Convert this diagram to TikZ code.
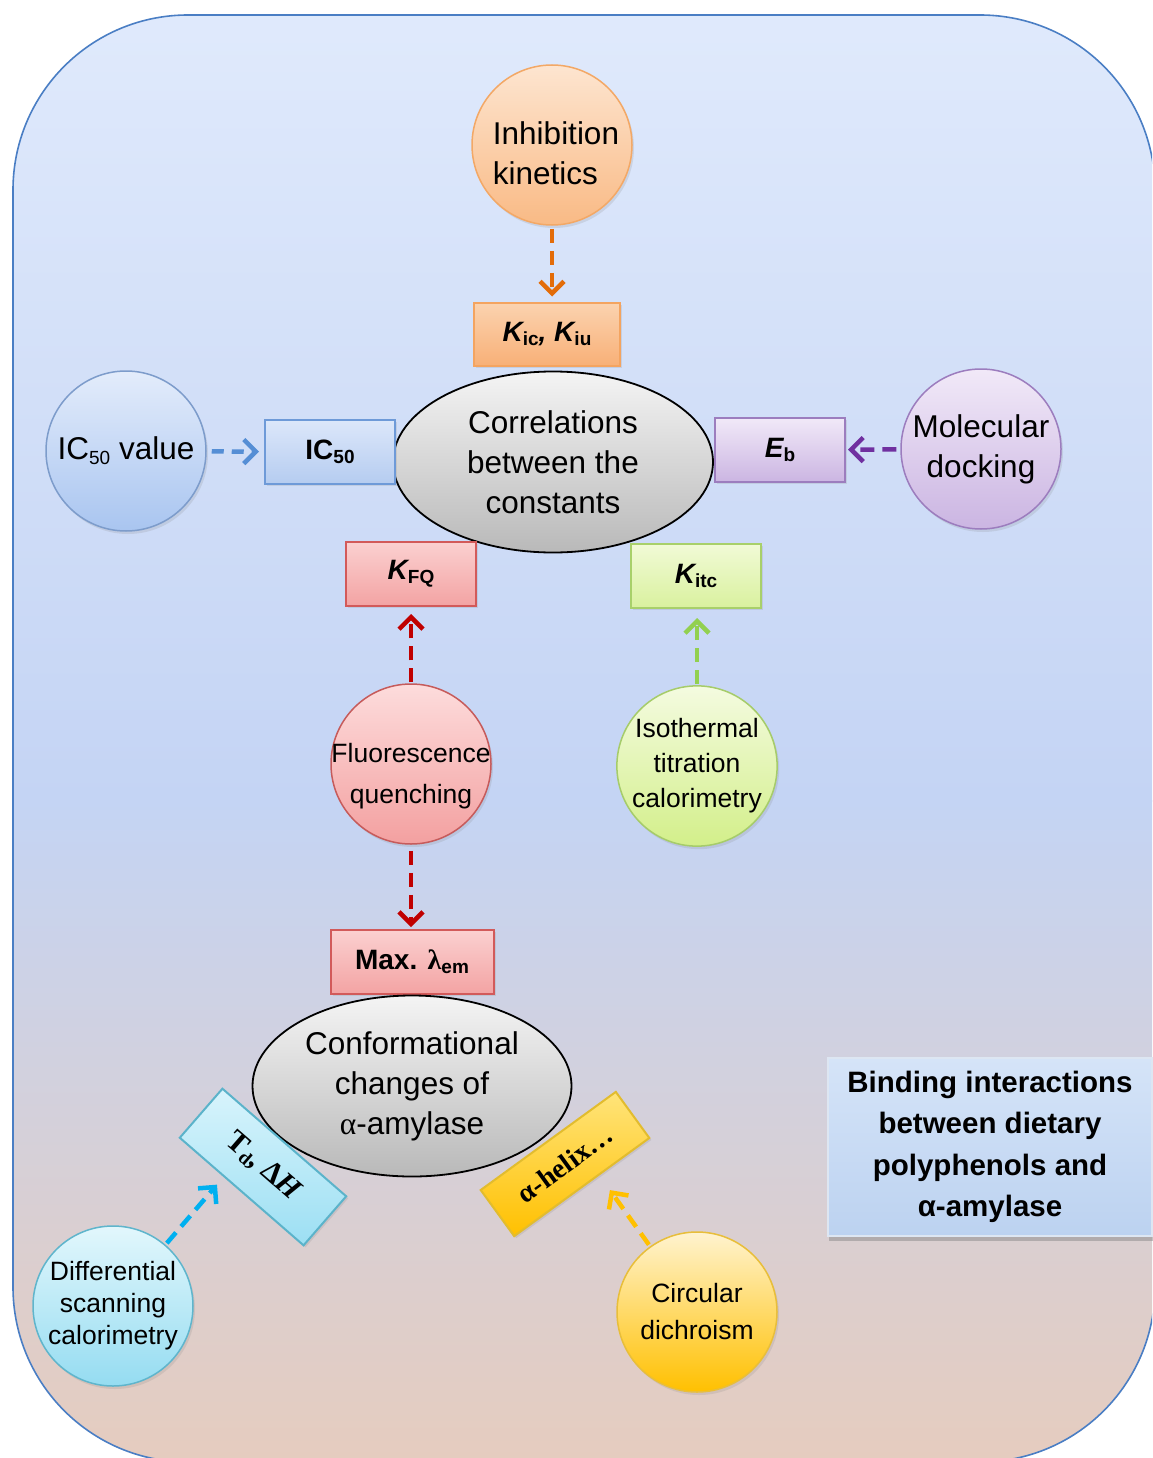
\documentclass[tikz,border=0pt]{standalone}
\usepackage{fontspec}
\setmainfont{Liberation Sans}
\newfontfamily\timesfont{Liberation Serif}
\usetikzlibrary{arrows.meta, shapes.geometric, shadows, calc}

% background
\definecolor{bgtop}{HTML}{E0EAFC}
\definecolor{bgmid}{HTML}{C4D4F4}
\definecolor{bgbot}{HTML}{E6CCBE}
\definecolor{frame}{HTML}{4A7EC4}
% ovals
\definecolor{ovaltop}{HTML}{F4F4F4}
\definecolor{ovalbot}{HTML}{B9B9B9}
% arrows
\definecolor{arrorange}{HTML}{E36C09}
\definecolor{arrblue}{HTML}{558ED5}
\definecolor{arrpurple}{HTML}{7030A0}
\definecolor{arrred}{HTML}{C00000}
\definecolor{arrgreen}{HTML}{92D050}
\definecolor{arrcyan}{HTML}{00B0F0}
\definecolor{arrgold}{HTML}{FFC000}

\newcommand{\lo}[1]{\raisebox{-0.3ex}{\fontsize{19}{19}\selectfont #1}}

\begin{document}
\begin{tikzpicture}[x=1pt, y=-1pt,
  every node/.style={font=\fontsize{31.5}{40}\selectfont},
  circ/.style={circle, minimum size=160pt, inner sep=0pt, line width=1.5pt, align=center,
    drop shadow={opacity=0.18, shadow xshift=2pt, shadow yshift=-3pt}},
  small/.style={font=\fontsize{26.5}{35}\selectfont},
  box/.style={rectangle, minimum width=130pt, minimum height=64pt, inner sep=0pt, line width=2pt,
    font=\fontsize{28}{28}\selectfont\bfseries,
    drop shadow={opacity=0.18, shadow xshift=2pt, shadow yshift=-2pt}},
  oval/.style={ellipse, minimum width=320pt, minimum height=181pt, inner sep=0pt, align=center,
    top color=ovaltop, bottom color=ovalbot, draw=black, line width=1.8pt},
  link/.style={line width=4.5pt, dash pattern=on 14pt off 8pt,
    -{Straight Barb[length=12pt,width=24pt]}},
  orangec/.style={top color={rgb,255:red,253;green,229;blue,208}, bottom color={rgb,255:red,249;green,186;blue,133}, draw={rgb,255:red,243;green,168;blue,102}},
  orangeb/.style={top color={rgb,255:red,251;green,211;blue,176}, bottom color={rgb,255:red,248;green,176;blue,119}, draw={rgb,255:red,244;green,164;blue,96}},
  bluec/.style={top color={rgb,255:red,227;green,236;blue,251}, bottom color={rgb,255:red,169;green,197;blue,240}, draw={rgb,255:red,125;green,156;blue,203}},
  blueb/.style={top color={rgb,255:red,220;green,231;blue,250}, bottom color={rgb,255:red,181;green,204;blue,240}, draw={rgb,255:red,110;green,154;blue,216}},
  purplec/.style={top color={rgb,255:red,241;green,233;blue,248}, bottom color={rgb,255:red,203;green,181;blue,226}, draw={rgb,255:red,156;green,125;blue,190}},
  redc/.style={top color={rgb,255:red,253;green,220;blue,220}, bottom color={rgb,255:red,243;green,160;blue,160}, draw={rgb,255:red,198;green,91;blue,91}},
  redb/.style={top color={rgb,255:red,251;green,208;blue,208}, bottom color={rgb,255:red,243;green,163;blue,163}, draw={rgb,255:red,210;green,90;blue,90}},
  greenc/.style={top color={rgb,255:red,244;green,251;blue,224}, bottom color={rgb,255:red,211;green,239;blue,138}, draw={rgb,255:red,166;green,204;blue,106}},
  greenb/.style={top color={rgb,255:red,241;green,250;blue,214}, bottom color={rgb,255:red,217;green,241;blue,158}, draw={rgb,255:red,168;green,208;blue,106}},
  cyanc/.style={top color={rgb,255:red,226;green,247;blue,252}, bottom color={rgb,255:red,149;green,220;blue,241}, draw={rgb,255:red,95;green,181;blue,204}},
  cyanb/.style={top color={rgb,255:red,216;green,244;blue,252}, bottom color={rgb,255:red,156;green,223;blue,243}, draw={rgb,255:red,91;green,179;blue,202}},
  goldc/.style={top color={rgb,255:red,255;green,243;blue,207}, bottom color=arrgold, draw={rgb,255:red,232;green,190;blue,58}},
  goldb/.style={top color={rgb,255:red,255;green,228;blue,122}, bottom color=arrgold, draw={rgb,255:red,226;green,188;blue,46}}]

  \useasboundingbox (0,0) rectangle (1152,1458);
  \fill[white] (0,0) rectangle (1152,1458);
  \begin{scope}
    \clip (0,0) rectangle (1152,1458);
    \begin{scope}
      \clip[rounded corners=175pt] (13,15) rectangle (1155,1462);
      \shade[top color=bgtop, bottom color=bgmid] (0,0) rectangle (1160,801);
      \shade[top color=bgmid, bottom color=bgbot] (0,800) rectangle (1160,1470);
    \end{scope}
    \draw[frame, line width=1.6pt, rounded corners=175pt] (13,15) rectangle (1155,1462);
  \end{scope}

  % upper half
  \node[oval] (corr) at (553,462) {Correlations\\between the\\constants};
  \node[circ, orangec] (inhib) at (552,145) {};
  \node[align=left] (inhibtext) at (556,153) {Inhibition\\kinetics};
  \node[box, orangeb, minimum width=146pt, minimum height=63pt] (kic) at (547,334)
    {\itshape K\lo{\upshape ic}, K\lo{\upshape iu}};
  \node[circ, bluec] (ic50v) at (126,451) {IC\lo{50} value};
  \node[box, blueb] (ic50) at (330,452) {IC\lo{50}};
  \node[box, purplec] (eb) at (780,450) {\itshape E\lo{\upshape b}};
  \node[circ, purplec] (dock) at (981,449) {Molecular\\docking};
  \node[box, redb] (kfq) at (411,574) {\itshape K\lo{\upshape FQ}};
  \node[box, greenb] (kitc) at (696,576) {\itshape K\lo{\upshape itc}};
  \node[circ, redc] (fq) at (411,764) {};
  \node[font=\fontsize{26.5}{41}\selectfont, align=center] (fqtext) at (411,776) {Fluorescence\\quenching};
  \node[circ, greenc, small] (itc) at (697,766) {Isothermal\\titration\\calorimetry};

  % lower half
  \node[box, redb, minimum width=163pt] (maxl) at (412,962) {Max. {\timesfont λ}\lo{em}};
  \node[oval, minimum width=319pt] (conf) at (412,1086) {Conformational\\changes of\\{\timesfont α}-amylase};
  \node[box, cyanb, rotate=-41, minimum width=164pt, minimum height=65pt,
    font=\fontsize{30}{30}\selectfont\timesfont\bfseries] (td) at (263,1167) {T\lo{d}, Δ\textit{H}};
  \node[box, goldb, rotate=36, minimum width=167pt, minimum height=57pt,
    font=\fontsize{28}{28}\selectfont\timesfont\bfseries] (helix) at (565,1164) {α-helix…};
  \node[circ, cyanc, font=\fontsize{26.5}{32}\selectfont] (dsc) at (113,1306) {Differential\\scanning\\calorimetry};
  \node[circ, goldc, font=\fontsize{26.5}{37}\selectfont] (cd) at (697,1312) {Circular\\dichroism};

  \node[rectangle, minimum width=324pt, minimum height=178pt, inner sep=0pt,
    top color={rgb,255:red,213;green,228;blue,248}, bottom color={rgb,255:red,188;green,210;blue,240},
    draw={rgb,255:red,221;green,230;blue,242}, line width=1.2pt,
    drop shadow={opacity=0.45, shadow xshift=1pt, shadow yshift=-5pt},
    align=center, font=\fontsize{29.5}{41.5}\selectfont\bfseries] (title) at (990,1147)
    {Binding interactions\\between dietary\\polyphenols and\\α-amylase};

  % connectors
  \draw[link, arrorange, shorten <=3pt, shorten >=5pt] (inhib) -- (inhib |- kic.north);
  \draw[link, arrblue, dash pattern=on 12pt off 8pt, shorten <=5pt, shorten >=5pt] (ic50v) -- (ic50);
  \draw[link, arrpurple, shorten <=4pt, shorten >=2pt] (dock) -- (eb);
  \draw[link, arrred, shorten <=1pt, shorten >=7pt] (fq) -- (fq |- kfq.south);
  \draw[link, arrgreen, shorten <=1pt, shorten >=9pt] (itc) -- (itc |- kitc.south);
  \draw[link, arrred, shorten <=6pt, shorten >=2pt] (fq) -- (fq |- maxl.north);
  \draw[link, arrcyan, shorten <=2pt, shorten >=10pt] (dsc) -- ($(td.south west)!0.72!(td.south)$);
  \draw[link, arrgold, shorten <=2pt, shorten >=18pt] (cd) -- ($(helix.south)!0.25!(helix.south east)$);
\end{tikzpicture}
\end{document}
